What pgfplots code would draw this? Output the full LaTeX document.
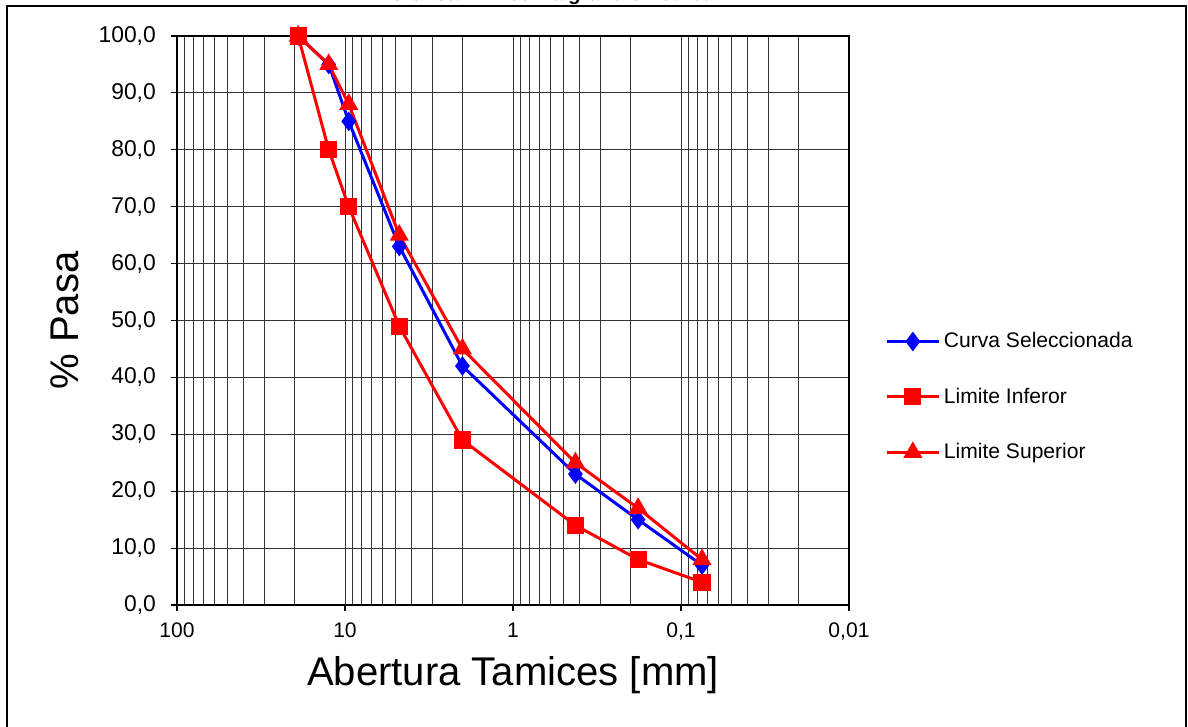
\documentclass[border=0pt]{standalone}
\usepackage{fontspec}
\setmainfont{Liberation Sans}
\usepackage{pgfplots}
\pgfplotsset{compat=1.18}

\begin{document}
\begin{tikzpicture}
% picture box: 1188x726 px, 1 px = 0.02 cm
\useasboundingbox (0,0) rectangle (23.76,14.52);
\draw[line width=1.2pt] (0.14,-0.3) -- (0.14,14.40) -- (23.72,14.40) -- (23.72,-0.3);
\node[anchor=base, font=\fontsize{11.4}{13}\selectfont\bfseries\itshape] at (11.04,14.50)
  {Gráfica 2-4: Curva granulométrica};

\begin{axis}[
  at={(3.54cm,2.42cm)}, anchor=south west,
  scale only axis, width=13.44cm, height=11.38cm,
  xmode=log, x dir=reverse, xmin=0.01, xmax=100,
  ymin=0, ymax=100, ytick={0,10,...,100},
  xtick={0.01,0.1,1,10,100},
  xticklabels={{0,01},{0,1},1,10,100},
  minor xtick={0.02,0.03,0.04,0.05,0.06,0.07,0.08,0.09,
               0.2,0.3,0.4,0.5,0.6,0.7,0.8,0.9,
               2,3,4,5,6,7,8,9,20,30,40,50,60,70,80,90},
  xtick pos=lower, ytick pos=left,
  tick align=outside, major tick length=0.12cm, minor tick length=0pt,
  tick style={black, line width=0.6pt},
  grid=both,
  major grid style={black!80, line width=0.55pt},
  minor grid style={black!80, line width=0.55pt},
  axis line style={line width=1.2pt},
  xticklabel style={font=\fontsize{12}{14}\selectfont, yshift=-0.12cm},
  /pgf/number format/assume math mode=true,
  yticklabel style={font=\fontsize{13}{15}\selectfont, xshift=-0.18cm,
                    /pgf/number format/.cd, fixed, fixed zerofill, precision=1, use comma},
  xlabel={Abertura Tamices [mm]},
  xlabel style={at={(axis description cs:0.5,-0.123)}, anchor=center,
                font=\fontsize{22.8}{26}\selectfont},
  ylabel={\% Pasa},
  ylabel style={at={(axis description cs:-0.1667,0.5)}, anchor=center,
                font=\fontsize{22.8}{26}\selectfont},
  clip=false,
  legend style={at={(1.0536,0.3656)}, anchor=west, draw=none, fill=none,
                inner sep=0pt, row sep=0.61cm, font=\fontsize{12}{14}\selectfont},
  legend cell align=left,
  legend image code/.code={\draw[mark repeat=2,mark phase=2,#1]
    plot coordinates {(0cm,0cm) (0.52cm,0cm) (1.04cm,0cm)};},
]
\addplot[blue, line width=1.7pt, mark=diamond*, mark size=4.2pt,
         mark options={solid, fill=blue}]
  coordinates {(19,100)(12.5,95)(9.5,85)(4.75,63)(2.0,42)(0.425,23)(0.18,15)(0.075,7)};
\addlegendentry{Curva Seleccionada}
\addplot[red, line width=1.7pt, mark=square*, mark size=4pt,
         mark options={solid, fill=red}]
  coordinates {(19,100)(12.5,80)(9.5,70)(4.75,49)(2.0,29)(0.425,14)(0.18,8)(0.075,4)};
\addlegendentry{Limite Inferor}
\addplot[red, line width=1.7pt, mark=triangle*, mark size=4.6pt,
         mark options={solid, fill=red}]
  coordinates {(19,100)(12.5,95)(9.5,88)(4.75,65)(2.0,45)(0.425,25)(0.18,17)(0.075,8)};
\addlegendentry{Limite Superior}
\end{axis}
\end{tikzpicture}
\end{document}
